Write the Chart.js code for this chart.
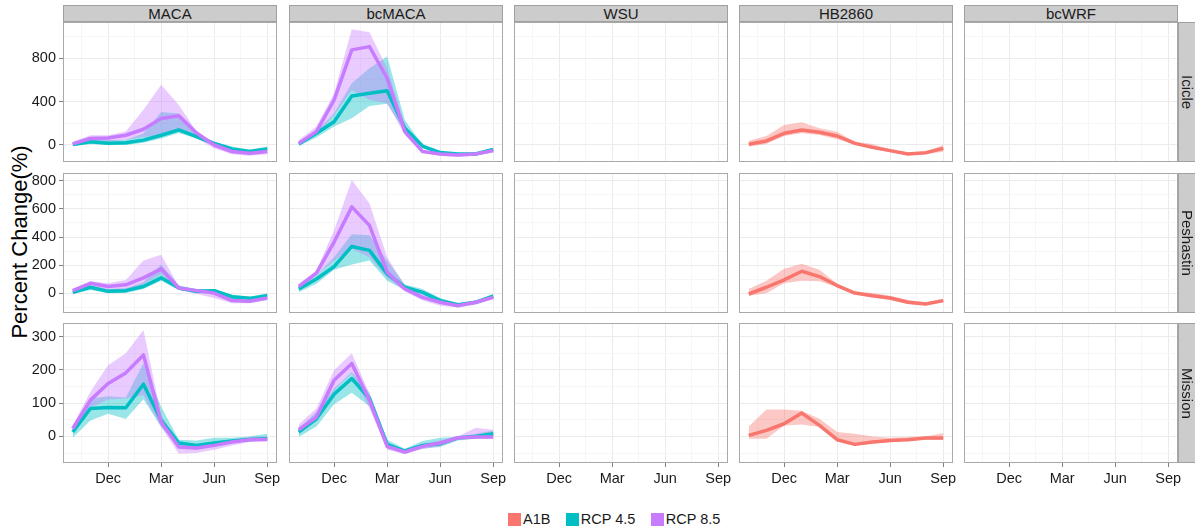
<!DOCTYPE html>
<html>
<head>
<meta charset="utf-8">
<title>Percent change by month</title>
<script src="https://cdn.jsdelivr.net/npm/chart.js@4/dist/chart.umd.min.js"></script>
<style>
  body { margin: 0; background: #fff; font-family: "Liberation Sans", Arial, Helvetica, sans-serif; }
  #wrap { position: relative; width: 1195px; height: 531px; overflow: hidden; }
  #wrap canvas { position: absolute; }
  .strip {
    position: absolute; box-sizing: border-box; background: #cccccc; border: 1px solid #a0a0a0;
    color: #1a1a1a; font-size: 15px; display: flex; align-items: center; justify-content: center;
    white-space: nowrap; overflow: hidden;
  }
  .strip.side span { writing-mode: vertical-rl; }
  #ytitle {
    position: absolute; left: -130px; top: 229px; width: 300px; height: 26px; line-height: 26px;
    text-align: center; font-size: 22px; color: #000; transform: rotate(-90deg); white-space: nowrap;
  }
  #legend { position: absolute; left: 508px; top: 511px; display: flex; align-items: center; font-size: 14.5px; color: #1a1a1a; }
  #legend .key { width: 13px; height: 13px; margin-right: 2px; }
  #legend .item { display: flex; align-items: center; margin-right: 15.4px; }
</style>
</head>
<body>
<div id="wrap"><div id="ytitle">Percent Change(%)</div></div>
<script>
// months of the water year, Oct..Sep, plotted at x = 0..11
const months = ['Oct', 'Nov', 'Dec', 'Jan', 'Feb', 'Mar', 'Apr', 'May', 'Jun', 'Jul', 'Aug', 'Sep'];
const models = ['MACA', 'bcMACA', 'WSU', 'HB2860', 'bcWRF'];
const sites = ['Icicle', 'Peshastin', 'Mission'];
const scenarios = ['A1B', 'RCP 4.5', 'RCP 8.5'];
const scenarioColors = ['#F8766D', '#00BFC4', '#C77CFF'];

// axis breaks
const xMajor = [2, 5, 8, 11];
const xMinor = [0.5, 3.5, 6.5, 9.5];
const yMajor = [[0, 400, 800], [0, 200, 400, 600, 800], [0, 100, 200, 300]];
const yMinor = [[200, 600, 1000], [-100, 100, 300, 500, 700], [-50, 50, 150, 250]];
const yMin = [-157, -140, -80];
const yMax = [1135, 855, 341];

// MACA - Icicle
const macaIcicle45 = [5, 30, 15, 20, 45, 90, 140, 77, 15, -37, -60, -37];
const macaIcicle45Lo = [-10, 10, 0, 0, 20, 60, 110, 60, -10, -55, -75, -55];
const macaIcicle45Hi = [20, 60, 45, 45, 105, 305, 290, 110, 30, -15, -45, -15];
const macaIcicle85 = [10, 60, 65, 90, 145, 245, 270, 110, 0, -60, -77, -60];
const macaIcicle85Lo = [-10, 30, 30, 45, 75, 80, 140, 60, -30, -85, -100, -85];
const macaIcicle85Hi = [30, 90, 90, 125, 325, 555, 370, 125, 15, -45, -60, -40];

// bcMACA - Icicle
const bcmacaIcicle45 = [10, 108, 215, 453, 477, 500, 155, -10, -70, -83, -83, -40];
const bcmacaIcicle45Lo = [-10, 70, 170, 246, 360, 380, 123, -30, -83, -92, -89, -52];
const bcmacaIcicle45Hi = [30, 123, 292, 570, 708, 816, 230, 0, -60, -77, -70, -25];
const bcmacaIcicle85 = [15, 123, 415, 878, 908, 616, 123, -60, -83, -92, -83, -52];
const bcmacaIcicle85Lo = [0, 92, 277, 508, 415, 385, 92, -70, -100, -108, -100, -70];
const bcmacaIcicle85Hi = [46, 170, 477, 1068, 1040, 708, 185, -46, -77, -86, -70, -40];

// HB2860 - Icicle
const hbIcicle = [6, 37, 108, 139, 117, 83, 15, -22, -52, -83, -71, -31];
const hbIcicleLo = [-15, 9, 83, 108, 92, 52, 6, -37, -68, -92, -83, -62];
const hbIcicleHi = [40, 83, 185, 209, 154, 123, 31, 9, -40, -71, -62, 0];

// MACA - Peshastin
const macaPesh45 = [7, 43, 14, 19, 48, 110, 38, 14, 19, -24, -36, -17];
const macaPesh45Lo = [-5, 24, 0, 2, 31, 90, 24, 0, 0, -38, -48, -29];
const macaPesh45Hi = [19, 55, 31, 36, 79, 205, 55, 31, 31, -10, -24, 0];
const macaPesh85 = [19, 71, 48, 60, 110, 174, 38, 19, 2, -52, -57, -33];
const macaPesh85Lo = [-5, 38, 14, 19, 62, 138, 24, -5, -33, -71, -71, -48];
const macaPesh85Hi = [31, 86, 71, 95, 233, 274, 48, 31, 24, -29, -40, -17];

// bcMACA - Peshastin
const bcmacaPesh45 = [31, 102, 190, 333, 305, 138, 43, 7, -52, -81, -64, -21];
const bcmacaPesh45Lo = [7, 67, 167, 205, 233, 90, 24, -5, -71, -93, -71, -33];
const bcmacaPesh45Hi = [48, 126, 257, 419, 412, 233, 62, 31, -33, -71, -52, -5];
const bcmacaPesh85 = [48, 143, 364, 614, 483, 150, 31, -29, -64, -88, -64, -29];
const bcmacaPesh85Lo = [31, 126, 233, 317, 257, 110, 14, -52, -88, -100, -81, -40];
const bcmacaPesh85Hi = [67, 162, 448, 805, 638, 257, 55, -5, -52, -76, -52, -10];

// HB2860 - Peshastin
const hbPesh = [-5, 43, 95, 157, 119, 55, 2, -17, -33, -64, -76, -52];
const hbPeshLo = [-17, 0, 71, 90, 86, 43, -5, -29, -48, -76, -83, -64];
const hbPeshHi = [31, 90, 174, 210, 167, 67, 12, 2, -17, -48, -64, -40];

// MACA - Mission
const macaMission45 = [13, 84, 87, 86, 157, 48, -20, -27, -20, -14, -9, -7];
const macaMission45Lo = [-4, 48, 68, 52, 112, 28, -30, -40, -30, -20, -14, -12];
const macaMission45Hi = [18, 114, 121, 117, 220, 89, -10, -12, -4, -4, 0, 8];
const macaMission85 = [23, 109, 159, 191, 245, 43, -32, -35, -27, -17, -10, -9];
const macaMission85Lo = [10, 87, 111, 114, 124, 28, -52, -50, -40, -27, -17, -14];
const macaMission85Hi = [33, 134, 214, 250, 320, 63, -24, -30, -20, -10, -2, 0];

// bcMACA - Mission
const bcmacaMission45 = [13, 53, 127, 174, 114, -24, -44, -27, -22, -4, 0, 8];
const bcmacaMission45Lo = [-2, 30, 97, 131, 91, -37, -50, -37, -32, -12, -7, 0];
const bcmacaMission45Hi = [23, 73, 144, 194, 131, -10, -37, -14, -4, -2, 8, 18];
const bcmacaMission85 = [20, 58, 169, 219, 109, -30, -47, -30, -20, -4, -2, -2];
const bcmacaMission85Lo = [8, 48, 139, 189, 84, -40, -54, -37, -30, -10, -7, -7];
const bcmacaMission85Hi = [36, 84, 199, 250, 129, -22, -40, -22, -12, 0, 26, 20];

// HB2860 - Mission
const hbMission = [3, 18, 38, 70, 33, -10, -24, -17, -12, -10, -5, -5];
const hbMissionLo = [-7, -7, 33, 36, 28, -14, -27, -22, -17, -12, -10, -10];
const hbMissionHi = [30, 81, 81, 77, 53, 13, 8, 0, -4, -2, 0, 10];

// [scenario index, mean, lower, upper] per panel; WSU and bcWRF have no runs
const panelSeries = {
  'MACA|Icicle': [[1, macaIcicle45, macaIcicle45Lo, macaIcicle45Hi], [2, macaIcicle85, macaIcicle85Lo, macaIcicle85Hi]],
  'bcMACA|Icicle': [[1, bcmacaIcicle45, bcmacaIcicle45Lo, bcmacaIcicle45Hi], [2, bcmacaIcicle85, bcmacaIcicle85Lo, bcmacaIcicle85Hi]],
  'HB2860|Icicle': [[0, hbIcicle, hbIcicleLo, hbIcicleHi]],
  'MACA|Peshastin': [[1, macaPesh45, macaPesh45Lo, macaPesh45Hi], [2, macaPesh85, macaPesh85Lo, macaPesh85Hi]],
  'bcMACA|Peshastin': [[1, bcmacaPesh45, bcmacaPesh45Lo, bcmacaPesh45Hi], [2, bcmacaPesh85, bcmacaPesh85Lo, bcmacaPesh85Hi]],
  'HB2860|Peshastin': [[0, hbPesh, hbPeshLo, hbPeshHi]],
  'MACA|Mission': [[1, macaMission45, macaMission45Lo, macaMission45Hi], [2, macaMission85, macaMission85Lo, macaMission85Hi]],
  'bcMACA|Mission': [[1, bcmacaMission45, bcmacaMission45Lo, bcmacaMission45Hi], [2, bcmacaMission85, bcmacaMission85Lo, bcmacaMission85Hi]],
  'HB2860|Mission': [[0, hbMission, hbMissionLo, hbMissionHi]]
};

// page layout
const colLeft = [63, 289, 514, 739, 964];
const rowTop = [22, 173, 323];
const panelW = 214, panelH = 140;
const yAxisW = 63, xAxisH = 28, rightPad = 10;
const FONT = '"Liberation Sans", Arial, Helvetica, sans-serif';
const GRID_MAJOR = '#ebebeb', GRID_MINOR = '#f6f6f6', TICK = '#7f7f7f', TEXT = '#1a1a1a';

Chart.defaults.font.family = FONT;

const wrap = document.getElementById('wrap');

function alpha(hex, a) {
  const n = parseInt(hex.slice(1), 16);
  return 'rgba(' + (n >> 16) + ',' + ((n >> 8) & 255) + ',' + (n & 255) + ',' + a + ')';
}

function points(values) {
  return values.map((v, i) => ({ x: i, y: v }));
}

// panel frame, drawn over the data like ggplot's panel border
const panelBorder = {
  id: 'panelBorder',
  afterDraw(chart) {
    const a = chart.chartArea;
    const ctx = chart.ctx;
    ctx.save();
    ctx.strokeStyle = '#a9a9a9';
    ctx.lineWidth = 1;
    ctx.strokeRect(Math.round(a.left) + 0.5, Math.round(a.top) + 0.5,
      Math.round(a.right - a.left) - 1, Math.round(a.bottom - a.top) - 1);
    ctx.restore();
  }
};

function buildDatasets(series) {
  const ribbons = [];
  const lines = [];
  const n = series.length;
  series.forEach(([s, mean, lo, hi], k) => {
    const c = scenarioColors[s];
    ribbons.push({
      label: scenarios[s] + ' lower', data: points(lo),
      borderColor: 'transparent', borderWidth: 1, pointRadius: 0, fill: false,
      order: 10 + (n - k) * 2
    });
    ribbons.push({
      label: scenarios[s] + ' upper', data: points(hi),
      borderColor: 'transparent', borderWidth: 1, pointRadius: 0,
      backgroundColor: alpha(c, 0.4), fill: '-1',
      order: 9 + (n - k) * 2
    });
    lines.push({
      label: scenarios[s], data: points(mean),
      borderColor: c, borderWidth: 3.5, pointRadius: 0, fill: false,
      borderJoinStyle: 'round', borderCapStyle: 'butt',
      order: n - 1 - k
    });
  });
  return ribbons.concat(lines);
}

function makePanel(row, col) {
  const first = col === 0;
  const last = row === 2;
  const canvas = document.createElement('canvas');
  const w = (first ? colLeft[0] + panelW : panelW) + rightPad;
  const h = last ? panelH + xAxisH : panelH;
  canvas.width = w;
  canvas.height = h;
  canvas.style.left = (first ? 0 : colLeft[col]) + 'px';
  canvas.style.top = rowTop[row] + 'px';
  canvas.style.width = w + 'px';
  canvas.style.height = h + 'px';
  wrap.appendChild(canvas);

  const series = panelSeries[models[col] + '|' + sites[row]] || [];
  const xTicks = xMinor.concat(xMajor).sort((a, b) => a - b);
  const yTicks = yMinor[row].concat(yMajor[row]).filter(v => v > yMin[row] && v < yMax[row]).sort((a, b) => a - b);
  const isXMajor = ctx => ctx.tick && xMajor.includes(ctx.tick.value);
  const isYMajor = ctx => ctx.tick && yMajor[row].includes(ctx.tick.value);

  new Chart(canvas.getContext('2d'), {
    type: 'line',
    data: { datasets: buildDatasets(series) },
    options: {
      responsive: false,
      animation: false,
      devicePixelRatio: 1,
      layout: { padding: { left: 0, top: 0, bottom: 0, right: rightPad }, autoPadding: false },
      plugins: { legend: { display: false }, tooltip: { enabled: false } },
      elements: { line: { tension: 0 } },
      scales: {
        x: {
          type: 'linear', min: -0.55, max: 11.55,
          border: { display: false },
          afterBuildTicks: s => { s.ticks = xTicks.map(v => ({ value: v })); },
          afterFit: s => { s.height = last ? xAxisH : 0; s.paddingLeft = 0; s.paddingRight = 0; },
          grid: {
            color: ctx => isXMajor(ctx) ? GRID_MAJOR : GRID_MINOR,
            lineWidth: 1,
            drawTicks: last,
            tickLength: 4,
            tickColor: ctx => isXMajor(ctx) ? TICK : 'transparent'
          },
          ticks: {
            display: last, autoSkip: false, maxRotation: 0, padding: 3,
            color: TEXT, font: { size: 14.5 },
            callback: v => xMajor.includes(v) ? months[v] : ''
          }
        },
        y: {
          type: 'linear', min: yMin[row], max: yMax[row],
          border: { display: false },
          afterBuildTicks: s => { s.ticks = yTicks.map(v => ({ value: v })); },
          afterFit: s => { s.width = first ? yAxisW : 0; s.paddingTop = 0; s.paddingBottom = 0; },
          grid: {
            color: ctx => isYMajor(ctx) ? GRID_MAJOR : GRID_MINOR,
            lineWidth: 1,
            drawTicks: first,
            tickLength: 4,
            tickColor: ctx => isYMajor(ctx) ? TICK : 'transparent'
          },
          ticks: {
            display: first, autoSkip: false, padding: 3,
            color: TEXT, font: { size: 14.5 },
            callback: v => yMajor[row].includes(v) ? String(v) : ''
          }
        }
      }
    },
    plugins: [panelBorder]
  });
}

for (let r = 0; r < sites.length; r++) {
  for (let c = 0; c < models.length; c++) makePanel(r, c);
}

// facet strips
models.forEach((m, c) => {
  const d = document.createElement('div');
  d.className = 'strip';
  d.style.left = colLeft[c] + 'px';
  d.style.top = '5px';
  d.style.width = panelW + 'px';
  d.style.height = (rowTop[0] - 5) + 'px';
  d.textContent = m;
  wrap.appendChild(d);
});
sites.forEach((s, r) => {
  const d = document.createElement('div');
  d.className = 'strip side';
  d.style.left = (colLeft[4] + panelW) + 'px';
  d.style.top = rowTop[r] + 'px';
  d.style.width = '18px';
  d.style.height = panelH + 'px';
  const span = document.createElement('span');
  span.textContent = s;
  d.appendChild(span);
  wrap.appendChild(d);
});

// legend
const legend = document.createElement('div');
legend.id = 'legend';
scenarios.forEach((s, i) => {
  const item = document.createElement('div');
  item.className = 'item';
  const key = document.createElement('div');
  key.className = 'key';
  key.style.background = scenarioColors[i];
  const label = document.createElement('span');
  label.textContent = s;
  item.appendChild(key);
  item.appendChild(label);
  legend.appendChild(item);
});
wrap.appendChild(legend);
</script>
</body>
</html>
